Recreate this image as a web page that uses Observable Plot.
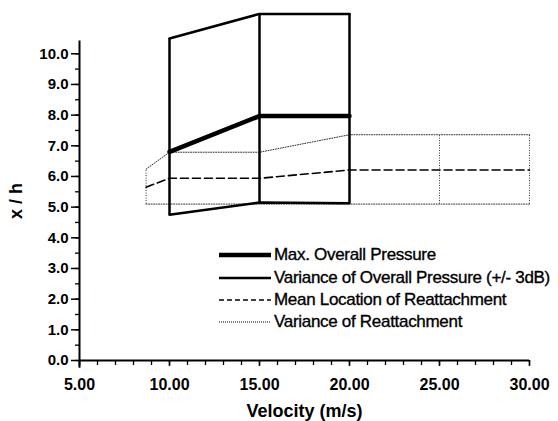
<!DOCTYPE html>
<html>
<head>
<meta charset="utf-8">
<script src="https://cdn.jsdelivr.net/npm/d3@7"></script>
<script src="https://cdn.jsdelivr.net/npm/@observablehq/plot@0.6"></script>
<style>
  html, body { margin: 0; padding: 0; background: white; }
  #wrap { position: relative; width: 558px; height: 421px; }
  #legend { position: absolute; left: 219px; top: 244px; font-family: "Liberation Sans", Arial, sans-serif; font-size: 17px; letter-spacing: -0.3px; color: #000; -webkit-text-stroke: 0.35px #000; white-space: nowrap; }
  .row { display: flex; align-items: center; height: 22.4px; }
  .row svg { width: 52px; height: 10px; margin-right: 3px; flex: none; }
</style>
</head>
<body>
<div id="wrap"><div id="legend"></div></div>
<script>
// Solid-line series (x = velocity)
const pressureVelocity = [10, 15, 20];
const maxPressure = [6.8, 7.97, 7.97];
const pressureUpper = [10.5, 11.3, 11.3];
const pressureLower = [4.75, 5.15, 5.13];

// Reattachment series
const reattVelocity = [8.7, 10, 15, 20, 25, 30];
const reattMean = [5.65, 5.94, 5.94, 6.21, 6.21, 6.21];
const reattUpper = [6.24, 6.79, 6.79, 7.36, 7.36, 7.36];
const reattLower = [5.1, 5.1, 5.1, 5.1, 5.1, 5.1];

// Axes
const xTicks = [5, 10, 15, 20, 25, 30];
const xMinor = d3.range(5, 30.01, 1);
const yTicks = [0, 1, 2, 3, 4, 5, 6, 7, 8, 9, 10];
const yMinor = d3.range(0, 10.01, 0.5);

const legendLabels = [
  "Max. Overall Pressure",
  "Variance of Overall Pressure (+/- 3dB)",
  "Mean Location of Reattachment",
  "Variance of Reattachment"
];

const pTable = pressureVelocity.map((v, i) => ({v, max: maxPressure[i], up: pressureUpper[i], lo: pressureLower[i]}));
const rTable = reattVelocity.map((v, i) => ({v, mean: reattMean[i], up: reattUpper[i], lo: reattLower[i]}));

const chart = Plot.plot({
  width: 558,
  height: 421,
  marginLeft: 79,
  marginRight: 29,
  marginTop: 41,
  marginBottom: 61,
  style: {fontFamily: "'Liberation Sans', Arial, sans-serif", fontSize: "15px", fontWeight: "bold", background: "white", color: "black"},
  x: {domain: [5, 30]},
  y: {domain: [0, 10.4]},
  marks: [
    // reattachment variance (dotted)
    Plot.ruleX(rTable, {x: "v", y1: "lo", y2: "up", stroke: "#333", strokeWidth: 1, strokeDasharray: "1,1.5"}),
    Plot.line(rTable, {x: "v", y: "up", stroke: "#333", strokeWidth: 1, strokeDasharray: "1,1.5"}),
    Plot.line(rTable, {x: "v", y: "lo", stroke: "#333", strokeWidth: 1, strokeDasharray: "1,1.5"}),
    // mean reattachment (dashed)
    Plot.line(rTable, {x: "v", y: "mean", stroke: "black", strokeWidth: 1.6, strokeDasharray: "8,4"}),
    // variance of overall pressure (solid)
    Plot.ruleX(pTable, {x: "v", y1: "lo", y2: "up", stroke: "black", strokeWidth: 2.5}),
    Plot.line(pTable, {x: "v", y: "up", stroke: "black", strokeWidth: 2.5}),
    Plot.line(pTable, {x: "v", y: "lo", stroke: "black", strokeWidth: 2.5}),
    // max overall pressure (thick)
    Plot.line(pTable, {x: "v", y: "max", stroke: "black", strokeWidth: 4.5}),
    // axes
    Plot.axisX({ticks: xMinor, tickSize: 5, tickFormat: () => "", label: null, strokeWidth: 1.3}),
    Plot.axisX({ticks: xTicks, tickSize: 6, tickPadding: 12, tickFormat: d3.format(".2f"), label: null, fontSize: 16, strokeWidth: 1.5}),
    Plot.axisX({ticks: [], label: "Velocity (m/s)", labelAnchor: "center", labelArrow: "none", labelOffset: 56, fontSize: 18}),
    Plot.axisY({ticks: yMinor, tickSize: 4, tickFormat: () => "", label: null, strokeWidth: 1.3}),
    Plot.axisY({ticks: yTicks, tickSize: 8, tickPadding: 3, tickFormat: d3.format(".1f"), label: null, fontSize: 15, strokeWidth: 1.5}),
    Plot.axisY({ticks: [], label: "x / h", labelAnchor: "center", labelArrow: "none", labelOffset: 70, fontSize: 18}),
    Plot.ruleY([0], {stroke: "black", strokeWidth: 2}),
    Plot.ruleX([5], {y1: -0.25, y2: 10.42, stroke: "black", strokeWidth: 2})
  ]
});

const wrap = document.getElementById("wrap");
wrap.insertBefore(chart, wrap.firstChild);

const legendStyles = [
  {w: 4.5, dash: null},
  {w: 2.5, dash: null},
  {w: 1.3, dash: "5,3"},
  {w: 1, dash: "1,1"}
];
const legend = document.getElementById("legend");
legendLabels.forEach((label, i) => {
  const s = legendStyles[i];
  const row = document.createElement("div");
  row.className = "row";
  row.innerHTML = `<svg viewBox="0 0 52 10"><line x1="0" x2="52" y1="5" y2="5" stroke="black" stroke-width="${s.w}" ${s.dash ? `stroke-dasharray="${s.dash}"` : ""}/></svg><span>${label}</span>`;
  legend.appendChild(row);
});
</script>
</body>
</html>
